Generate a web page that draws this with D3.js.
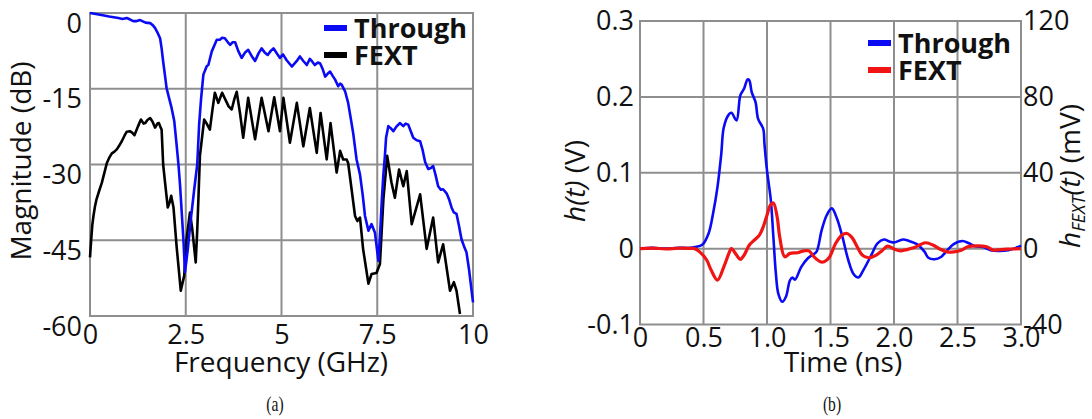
<!DOCTYPE html>
<html><head><meta charset="utf-8">
<script src="https://cdn.jsdelivr.net/npm/d3@7"></script>
<style>
html,body{margin:0;padding:0;background:#fff;}
svg{display:block;font-family:"Open Sans",sans-serif;}
</style></head><body>
<svg id="fig" width="1092" height="419"></svg>
<script>
// ---------- Panel (a): frequency response ----------
const freqTicks = [0, 2.5, 5, 7.5, 10];
const freqTickLabels = ["0", "2.5", "5", "7.5", "10"];
const magTicks = [0, -15, -30, -45, -60];
const magTickLabels = ["0", "-15", "-30", "-45", "-60"];

// [frequency (GHz), magnitude (dB)]
const throughMag = [
  [0,0],[0.3,-0.4],[0.5,-0.7],[0.74,-1.0],[0.85,-1.2],[0.96,-1.0],[1.05,-1.3],[1.13,-1.6],
  [1.22,-1.6],[1.31,-1.4],[1.45,-1.9],[1.57,-2.0],[1.65,-2.5],[1.70,-3.0],[1.77,-4.0],[1.83,-5.0],
  [1.87,-7],[1.91,-9.6],[1.96,-12.5],[2.00,-14.9],[2.07,-17.0],[2.13,-18.8],[2.20,-21.4],[2.26,-26],
  [2.31,-30],[2.35,-34],[2.39,-38.9],[2.44,-45],[2.48,-51.3],[2.55,-47],[2.63,-41],[2.72,-35],
  [2.80,-30],[2.85,-22],[2.90,-17],[2.96,-12.2],[3.05,-10.5],[3.09,-10.3],[3.18,-7.6],[3.31,-5.3],
  [3.39,-5.3],[3.45,-4.9],[3.52,-5.0],[3.60,-5.8],[3.66,-6.3],[3.72,-5.8],[3.79,-5.8],[3.87,-7.5],
  [3.96,-8.9],[4.05,-7.8],[4.13,-7.3],[4.22,-8.5],[4.31,-9.5],[4.40,-8.0],[4.48,-7.0],[4.56,-7.8],
  [4.64,-8.3],[4.72,-7.5],[4.79,-7.0],[4.88,-8.0],[4.96,-8.9],[5.04,-8.2],[5.13,-9.3],[5.27,-10.6],
  [5.40,-9.5],[5.48,-8.6],[5.57,-9.5],[5.66,-10.3],[5.74,-9.1],[5.80,-9.6],[5.87,-10.3],[5.95,-9.8],
  [6.01,-10.0],[6.08,-11.2],[6.14,-12.6],[6.21,-12.0],[6.27,-11.6],[6.34,-12.5],[6.40,-13.2],[6.48,-14.5],
  [6.53,-14.0],[6.57,-14.2],[6.66,-15.5],[6.74,-17.8],[6.80,-20.5],[6.87,-23.7],[6.96,-29],[7.05,-32],
  [7.12,-36],[7.18,-40.2],[7.27,-43.1],[7.35,-41.8],[7.44,-43.5],[7.48,-46],[7.53,-49.1],[7.58,-43],
  [7.62,-36.9],[7.66,-32],[7.70,-28.3],[7.73,-24.7],[7.79,-22.4],[7.85,-22.8],[7.92,-23.4],[8.00,-22.5],
  [8.09,-21.8],[8.18,-22.4],[8.24,-21.9],[8.31,-22.1],[8.38,-23.5],[8.44,-24.7],[8.53,-25.2],[8.62,-25.4],
  [8.68,-27],[8.75,-29.5],[8.83,-30.9],[8.90,-30.7],[8.96,-30.3],[9.02,-32],[9.09,-34.3],[9.16,-35],
  [9.22,-34.9],[9.31,-35.7],[9.38,-37],[9.44,-38.5],[9.50,-39.5],[9.57,-39.8],[9.63,-42],[9.70,-44.8],
  [9.78,-46.5],[9.83,-47.4],[9.90,-51],[10.0,-57.3]
];

const fextMag = [
  [0.00,-48.4],[0.03,-45],[0.06,-42],[0.09,-40.2],[0.13,-38.3],[0.17,-36.9],[0.24,-35.2],[0.31,-33.6],
  [0.38,-31.5],[0.44,-29.7],[0.50,-28.7],[0.57,-27.8],[0.63,-27.5],[0.70,-27],[0.76,-26.3],[0.83,-25.4],
  [0.90,-24.3],[0.96,-23.5],[1.04,-23.4],[1.10,-23.7],[1.16,-24.2],[1.25,-22.5],[1.33,-21.1],[1.40,-21.9],
  [1.44,-21.8],[1.50,-21.2],[1.57,-20.8],[1.63,-21.5],[1.70,-22.7],[1.76,-21.9],[1.80,-21.8],[1.85,-22.8],
  [1.87,-23.1],[1.91,-30],[1.96,-33.6],[2.03,-38.5],[2.08,-37.5],[2.12,-36.2],[2.18,-38.5],[2.26,-46.1],
  [2.37,-55],[2.46,-52],[2.52,-44.8],[2.61,-39.5],[2.67,-42.8],[2.76,-49.4],[2.80,-43],[2.83,-36.9],
  [2.87,-28.3],[2.92,-25],[2.98,-21.1],[3.04,-21.8],[3.13,-23.1],[3.20,-19],[3.26,-15.8],[3.35,-17.8],
  [3.45,-15.8],[3.55,-17.4],[3.62,-18.5],[3.70,-19.1],[3.77,-17],[3.83,-15.6],[3.92,-20],[4.00,-24.7],
  [4.13,-16.8],[4.31,-25],[4.48,-16.8],[4.66,-23.4],[4.81,-16.7],[4.96,-23.4],[5.05,-16.8],[5.22,-25.7],
  [5.40,-17.8],[5.57,-26.4],[5.74,-18.8],[5.92,-27.7],[6.02,-19.8],[6.18,-29],[6.28,-21.8],[6.44,-31.6],
  [6.53,-27.3],[6.61,-29],[6.70,-29],[6.74,-29.7],[6.83,-34.9],[6.92,-40.2],[6.98,-41.2],[7.05,-40.5],
  [7.13,-46.7],[7.27,-53.6],[7.35,-51.7],[7.48,-51.5],[7.57,-49.7],[7.66,-36.9],[7.76,-28.3],[7.87,-33.5],
  [7.96,-36.6],[8.07,-31],[8.18,-34.3],[8.27,-31.3],[8.40,-41.8],[8.62,-35.9],[8.79,-46.7],[8.96,-40.5],
  [9.09,-49.4],[9.22,-45.8],[9.40,-55],[9.50,-53.3],[9.57,-55],[9.66,-59.6]
];

// ---------- Panel (b): impulse responses ----------
const timeTicks = [0, 0.5, 1.0, 1.5, 2.0, 2.5, 3.0];
const timeTickLabels = ["0", "0.5", "1.0", "1.5", "2.0", "2.5", "3.0"];
const hTicks = [0.3, 0.2, 0.1, 0, -0.1];
const hTickLabels = ["0.3", "0.2", "0.1", "0", "-0.1"];
const hFextTicks = [120, 80, 40, 0, -40];
const hFextTickLabels = ["120", "80", "40", "0", "-40"];

// [time (ns), h(t) (V)]
const throughImpulse = [
  [0,0],[0.1,0.001],[0.2,0],[0.3,0.001],[0.4,0.001],[0.43,0.002],[0.49,0.005],[0.54,0.02],
  [0.575,0.046],[0.61,0.081],[0.64,0.125],[0.66,0.160],[0.70,0.177],[0.72,0.179],[0.76,0.169],[0.79,0.202],
  [0.82,0.211],[0.847,0.223],[0.86,0.222],[0.88,0.206],[0.91,0.193],[0.93,0.171],[0.97,0.158],[0.98,0.138],
  [1.00,0.103],[1.03,0.064],[1.05,0.016],[1.07,-0.033],[1.09,-0.060],[1.12,-0.070],[1.15,-0.063],[1.18,-0.042],
  [1.20,-0.038],[1.22,-0.041],[1.27,-0.024],[1.32,-0.013],[1.36,-0.008],[1.39,-0.004],[1.43,0.024],[1.47,0.044],
  [1.51,0.053],[1.55,0.040],[1.59,0.018],[1.64,-0.015],[1.68,-0.033],[1.72,-0.038],[1.76,-0.028],[1.82,-0.009],
  [1.87,0.007],[1.92,0.012],[1.97,0.009],[2.00,0.008],[2.07,0.012],[2.12,0.010],[2.18,0.006],[2.24,-0.004],
  [2.27,-0.012],[2.32,-0.014],[2.37,-0.011],[2.42,-0.002],[2.47,0.006],[2.54,0.010],[2.59,0.007],[2.64,0.003],
  [2.70,0.002],[2.76,-0.002],[2.82,-0.003],[2.90,-0.002],[2.96,0.001],[3.0,0.004]
];

// [time (ns), h_FEXT(t) (mV)]
const fextImpulse = [
  [0,0],[0.1,0.3],[0.2,-0.2],[0.3,0.2],[0.4,0.1],[0.43,0],[0.47,-1.7],[0.525,-6],[0.56,-11.3],
  [0.61,-16.6],[0.66,-9.6],[0.70,-2.5],[0.72,0],[0.76,-3.4],[0.79,-5.7],[0.82,-3.4],[0.86,1.8],
  [0.90,4.5],[0.94,7.1],[0.97,11.5],[1.00,17.6],[1.026,22.9],[1.05,24.1],[1.08,16.7],[1.10,6.2],
  [1.14,-4.3],[1.18,-2.5],[1.24,-2.2],[1.29,-1.2],[1.33,-1.2],[1.37,-4.3],[1.42,-6.9],[1.45,-6.9],
  [1.49,-4.7],[1.54,2.7],[1.59,7.1],[1.63,8.0],[1.67,5.8],[1.71,1],[1.75,-3.4],[1.80,-4.8],
  [1.86,-3.4],[1.91,-0.8],[1.95,1.3],[2.0,-0.2],[2.05,-1.2],[2.10,-0.5],[2.16,0.6],[2.21,2.2],
  [2.25,3.1],[2.31,1.8],[2.36,-0.2],[2.42,-1.7],[2.47,-1.7],[2.53,-0.8],[2.58,1],[2.66,1.5],
  [2.73,1],[2.78,-0.8],[2.84,-0.5],[2.92,-0.2],[3.0,0]
];

const seriesNames = ["Through", "FEXT"];

// ---------- drawing ----------
const svg = d3.select("#fig");
const gridColor = "#8e8e8e";
const tickFont = 27, titleFont = 28, legendFont = 27;

function frameAndGrid(g, x, y, xt, yt) {
  const [x0, x1] = x.range(), [y0, y1] = y.range();
  g.append("g").selectAll("line").data(xt.slice(1, -1)).join("line")
    .attr("x1", d => x(d)).attr("x2", d => x(d)).attr("y1", y0).attr("y2", y1)
    .attr("stroke", gridColor).attr("stroke-width", 2);
  g.append("g").selectAll("line").data(yt.slice(1, -1)).join("line")
    .attr("x1", x0).attr("x2", x1).attr("y1", d => y(d)).attr("y2", d => y(d))
    .attr("stroke", gridColor).attr("stroke-width", 2);
  g.append("rect").attr("x", x0).attr("y", y1).attr("width", x1 - x0).attr("height", y0 - y1)
    .attr("fill", "none").attr("stroke", gridColor).attr("stroke-width", 2);
}

function styleAxis(sel, size) {
  sel.select(".domain").remove();
  sel.attr("font-family", "'Open Sans', sans-serif").attr("font-size", size);
  sel.selectAll("text").attr("fill", "#111");
}

function legend(g, x, y, colors, gap) {
  seriesNames.forEach((name, i) => {
    g.append("rect").attr("x", x).attr("y", y + i * gap - 3).attr("width", 23).attr("height", 6)
      .attr("fill", colors[i]);
    g.append("text").attr("x", x + 30).attr("y", y + i * gap + 10).text(name)
      .attr("font-size", legendFont).attr("font-weight", 700).attr("fill", "#111");
  });
}

// Panel (a)
{
  const g = svg.append("g");
  const x = d3.scaleLinear().domain([0, 10]).range([90, 473]);
  const y = d3.scaleLinear().domain([-60, 0]).range([316, 13]);
  frameAndGrid(g, x, y, freqTicks, magTicks);

  const line = d3.line().x(d => x(d[0])).y(d => y(d[1]));
  g.append("path").datum(fextMag).attr("d", line).attr("fill", "none")
    .attr("stroke", "#000").attr("stroke-width", 2.6).attr("stroke-linejoin", "round");
  g.append("path").datum(throughMag).attr("d", line).attr("fill", "none")
    .attr("stroke", "#0a0af5").attr("stroke-width", 2.6).attr("stroke-linejoin", "round");

  const ax = g.append("g").attr("transform", "translate(0,316)")
    .call(d3.axisBottom(x).tickValues(freqTicks).tickFormat((d, i) => freqTickLabels[i]).tickSize(0).tickPadding(9));
  styleAxis(ax, tickFont);
  const ay = g.append("g").attr("transform", "translate(90,0)")
    .call(d3.axisLeft(y).tickValues(magTicks).tickFormat((d, i) => magTickLabels[i]).tickSize(0).tickPadding(8));
  styleAxis(ay, tickFont);
  ay.selectAll("text").attr("dy", 19);

  g.append("text").attr("x", 281).attr("y", 372).attr("text-anchor", "middle")
    .attr("font-size", titleFont).attr("fill", "#111").text("Frequency (GHz)");
  g.append("text").attr("transform", "translate(31,161) rotate(-90)").attr("text-anchor", "middle")
    .attr("font-size", titleFont).attr("fill", "#111").text("Magnitude (dB)");

  legend(g, 324, 28, ["#0a0af5", "#000"], 27);
}

// Panel (b)
{
  const g = svg.append("g");
  const x = d3.scaleLinear().domain([0, 3]).range([640, 1021]);
  const y = d3.scaleLinear().domain([-0.1, 0.3]).range([324.5, 21]);
  const y2 = d3.scaleLinear().domain([-40, 120]).range([324.5, 21]);
  frameAndGrid(g, x, y, timeTicks, hTicks);

  const curve = d3.curveCatmullRom.alpha(0.5);
  g.append("path").datum(throughImpulse)
    .attr("d", d3.line().curve(curve).x(d => x(d[0])).y(d => y(d[1])))
    .attr("fill", "none").attr("stroke", "#0a0af5").attr("stroke-width", 2.6);
  g.append("path").datum(fextImpulse)
    .attr("d", d3.line().curve(curve).x(d => x(d[0])).y(d => y2(d[1])))
    .attr("fill", "none").attr("stroke", "#f01414").attr("stroke-width", 3.2);

  const ax = g.append("g").attr("transform", "translate(0,324.5)")
    .call(d3.axisBottom(x).tickValues(timeTicks).tickFormat((d, i) => timeTickLabels[i]).tickSize(0).tickPadding(3));
  styleAxis(ax, tickFont);
  const ay = g.append("g").attr("transform", "translate(640,0)")
    .call(d3.axisLeft(y).tickValues(hTicks).tickFormat((d, i) => hTickLabels[i]).tickSize(0).tickPadding(6));
  styleAxis(ay, tickFont);
  const ay2 = g.append("g").attr("transform", "translate(1021,0)")
    .call(d3.axisRight(y2).tickValues(hFextTicks).tickFormat((d, i) => hFextTickLabels[i]).tickSize(0).tickPadding(2));
  styleAxis(ay2, tickFont);

  g.append("text").attr("x", 843).attr("y", 372).attr("text-anchor", "middle")
    .attr("font-size", titleFont).attr("fill", "#111").text("Time (ns)");

  const t1 = g.append("text").attr("transform", "translate(585,181) rotate(-90)").attr("text-anchor", "middle")
    .attr("font-size", titleFont).attr("fill", "#111");
  t1.append("tspan").attr("font-style", "italic").text("h(t)");
  t1.append("tspan").text(" (V)");

  const t2 = g.append("text").attr("transform", "translate(1080,176) rotate(-90)").attr("text-anchor", "middle")
    .attr("font-size", titleFont).attr("fill", "#111");
  t2.append("tspan").attr("font-style", "italic").text("h");
  t2.append("tspan").attr("font-style", "italic").attr("font-size", 18).attr("dy", 5).text("FEXT");
  t2.append("tspan").attr("font-style", "italic").attr("dy", -5).text("(t)");
  t2.append("tspan").text(" (mV)");

  legend(g, 868, 43, ["#0a0af5", "#f01414"], 27);
}

// Sub-figure captions
[["(a)", 275], ["(b)", 832]].forEach(([label, cx]) => {
  svg.append("text").attr("transform", `translate(${cx},411) scale(0.78,1)`).attr("text-anchor", "middle")
    .attr("font-family", "'Liberation Serif', serif").attr("font-size", 20).attr("fill", "#111").text(label);
});
</script>
</body></html>
